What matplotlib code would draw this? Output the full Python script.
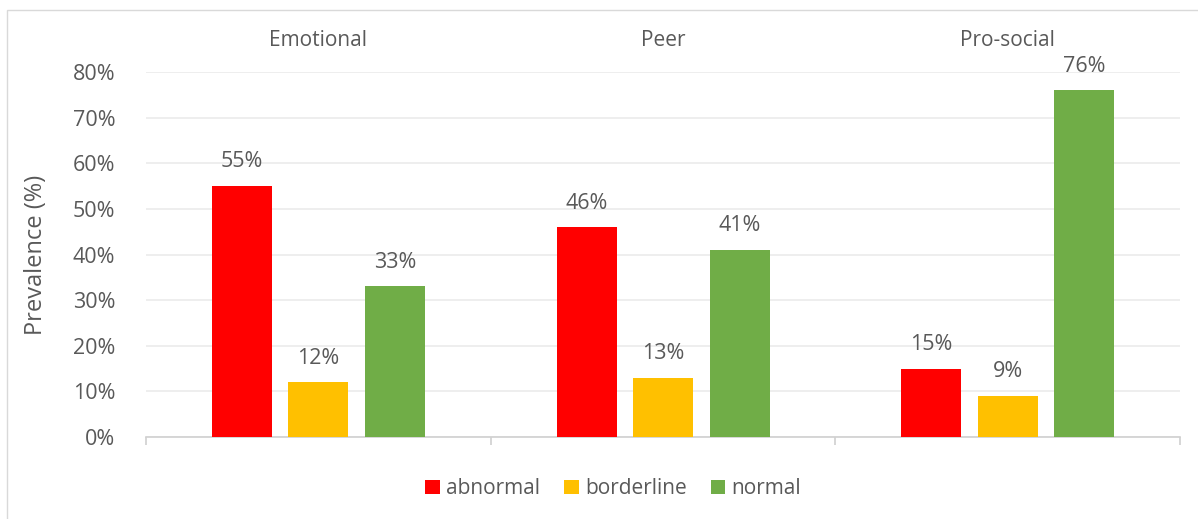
import numpy as np
import matplotlib.pyplot as plt
from matplotlib.patches import Rectangle

plt.rcParams['font.family'] = ['Open Sans', 'DejaVu Sans']

domains = ["Emotional", "Peer", "Pro-social"]
levels = ["abnormal", "borderline", "normal"]
abnormal = [55, 46, 15]
borderline = [12, 13, 9]
normal = [33, 41, 76]
colors = ["#FF0000", "#FFC000", "#70AD47"]

text_col = "#595959"

fig = plt.figure(figsize=(11.98, 5.19), dpi=100)
ax = fig.add_axes([0.1219, 0.158, 0.8631, 0.703])

# outer chart frame
fig.patches.append(Rectangle((0.006, -0.01), 1.0, 0.991, transform=fig.transFigure,
                             fill=False, edgecolor="#D9D9D9", linewidth=1.0))

x = np.arange(len(domains))
step = 0.222
width = 0.174
series = [abnormal, borderline, normal]
for i, (vals, col, lab) in enumerate(zip(series, colors, levels)):
    pos = x + (i - 1) * step
    ax.bar(pos, vals, width=width, color=col, label=lab, zorder=3)
    for px, v in zip(pos, vals):
        ax.text(px, v + 3.0, f"{v}%", ha="center", va="bottom",
                fontsize=15.5, color=text_col)

ax.set_xlim(-0.5, 2.5)
ax.set_ylim(0, 80)
ax.set_yticks(np.arange(0, 81, 10))
ax.set_yticklabels([f"{t}%" for t in range(0, 81, 10)])
ax.yaxis.grid(True, color="#EBEBEB", linewidth=1.2, zorder=0)
ax.tick_params(axis="y", length=0, labelsize=15.5, labelcolor=text_col, pad=22)

# category boundaries as bottom ticks, names on top
ax.set_xticks([-0.5, 0.5, 1.5, 2.5])
ax.set_xticklabels([])
ax.tick_params(axis="x", length=6, color="#D0D0D0", width=1.2, direction="out")
for xi, name in zip(x, domains):
    ax.text(xi, 1.088, name, transform=ax.get_xaxis_transform(), ha="center",
            va="center", fontsize=15, color=text_col)

for s in ["top", "right", "left"]:
    ax.spines[s].set_visible(False)
ax.spines["bottom"].set_color("#D0D0D0")
ax.spines["bottom"].set_linewidth(1.2)

ax.set_ylabel("Prevalence (%)", fontsize=17, color=text_col)
ax.yaxis.set_label_coords(-0.095, 0.5)

fig.legend(loc="center", bbox_to_anchor=(0.512, 0.058), ncol=3, frameon=False,
           fontsize=15, labelcolor=text_col, handlelength=0.7, handleheight=0.7,
           handletextpad=0.3, columnspacing=1.15)

fig.savefig("out.png", dpi=100)
